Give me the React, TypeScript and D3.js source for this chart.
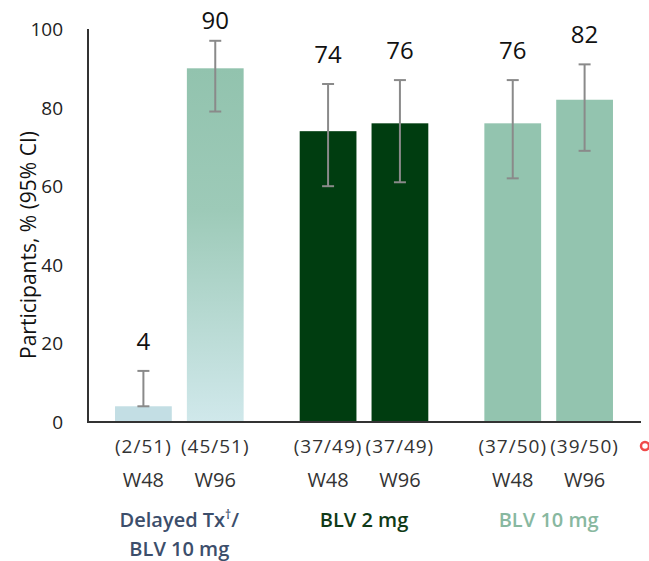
import React, { useEffect } from 'react';
import * as d3 from 'd3';

const groups = ['Delayed Tx', 'BLV 2 mg', 'BLV 10 mg'];
const weeks = ['W48', 'W96'];
const values = [4, 90, 74, 76, 76, 82];
const ciLow = [4, 79, 60, 61, 62, 69];
const ciHigh = [13, 97, 86, 87, 87, 91];
const counts = ['(2/51)', '(45/51)', '(37/49)', '(37/49)', '(37/50)', '(39/50)'];
const yTicks = [0, 20, 40, 60, 80, 100];

const W = 649;
const H = 561;
const font = '"Open Sans", "Noto Sans", sans-serif';

const App = () => {
  useEffect(() => {
    document.body.style.margin = '0';
  }, []);

  const y = d3.scaleLinear().domain([0, 100]).range([422, 29]);
  const x0 = d3.scaleBand<string>().domain(groups).range([87, 641]);
  const x1 = d3.scaleBand<string>().domain(weeks).range([0, x0.bandwidth()]).paddingInner(0.21).paddingOuter(0.39);

  const fills = ['#c3dee4', 'url(#grad90)', '#003d10', '#003d10', '#93c4af', '#93c4af'];
  const groupColors = ['#3c4e6b', '#0f3a17', '#88b8a0'];

  const bars = values.map((v, i) => {
    const g = groups[Math.floor(i / 2)];
    const w = weeks[i % 2];
    const bx = (x0(g) as number) + (x1(w) as number);
    return { v, i, bx, cx: bx + x1.bandwidth() / 2 };
  });

  return (
    <svg width={W} height={H} style={{ display: 'block', background: '#fff' }}>
      <defs>
        <linearGradient id="grad90" x1="0" y1="0" x2="0" y2="1">
          <stop offset="0" stopColor="#92c3ae" />
          <stop offset="0.4" stopColor="#9dcab8" />
          <stop offset="1" stopColor="#d0e8eb" />
        </linearGradient>
      </defs>

      {bars.map(b => (
        <rect key={'b' + b.i} x={b.bx} y={y(b.v)} width={x1.bandwidth()} height={y(0) - y(b.v)} fill={fills[b.i]} />
      ))}

      {bars.map(b => (
        <g key={'e' + b.i} stroke="#8a8a8a" strokeWidth={2}>
          <line x1={b.cx} x2={b.cx} y1={y(ciLow[b.i])} y2={y(ciHigh[b.i])} />
          <line x1={b.cx - 6} x2={b.cx + 6} y1={y(ciLow[b.i])} y2={y(ciLow[b.i])} />
          <line x1={b.cx - 6} x2={b.cx + 6} y1={y(ciHigh[b.i])} y2={y(ciHigh[b.i])} />
        </g>
      ))}

      {bars.map(b => (
        <text key={'v' + b.i} x={b.cx} y={Math.max(y(ciHigh[b.i]) - 21, 29)} textAnchor="middle"
          fontFamily={font} fontSize={24} fill="#111">{b.v}</text>
      ))}

      <line x1={88} x2={88} y1={29} y2={y(0)} stroke="#333" strokeWidth={2} />
      <line x1={87} x2={641} y1={y(0)} y2={y(0)} stroke="#333" strokeWidth={2} />

      {yTicks.map(t => (
        <text key={'t' + t} x={63} y={y(t) + 7} textAnchor="end" fontFamily={font} fontSize={19} fill="#222">{t}</text>
      ))}

      <text transform={`translate(36,245) rotate(-90)`} textAnchor="middle"
        fontFamily={font} fontSize={21} fill="#111">Participants, % (95% CI)</text>

      {bars.map(b => (
        <text key={'c' + b.i} x={b.cx} y={453} textAnchor="middle" fontFamily={font} fontSize={19}
          fill="#333" letterSpacing={1}>{counts[b.i]}</text>
      ))}
      {bars.map(b => (
        <text key={'w' + b.i} x={b.cx} y={487} textAnchor="middle" fontFamily={font} fontSize={20}
          fill="#333">{weeks[b.i % 2]}</text>
      ))}

      <text x={(x0(groups[0]) as number) + x0.bandwidth() / 2} y={527} textAnchor="middle" fontFamily={font}
        fontSize={20} fontWeight={600} fill={groupColors[0]}>
        {groups[0]}<tspan dy={-8} fontSize={12}>†</tspan><tspan dy={8}>/</tspan>
      </text>
      <text x={(x0(groups[0]) as number) + x0.bandwidth() / 2} y={556} textAnchor="middle" fontFamily={font}
        fontSize={20} fontWeight={600} fill={groupColors[0]}>BLV 10 mg</text>
      {groups.slice(1).map((g, k) => (
        <text key={g} x={(x0(g) as number) + x0.bandwidth() / 2} y={527} textAnchor="middle" fontFamily={font}
          fontSize={20} fontWeight={600} fill={groupColors[k + 1]}>{g}</text>
      ))}

      <circle cx={645} cy={446} r={4} fill="none" stroke="#f04a4a" strokeWidth={2.5} />
    </svg>
  );
};

export default App;
